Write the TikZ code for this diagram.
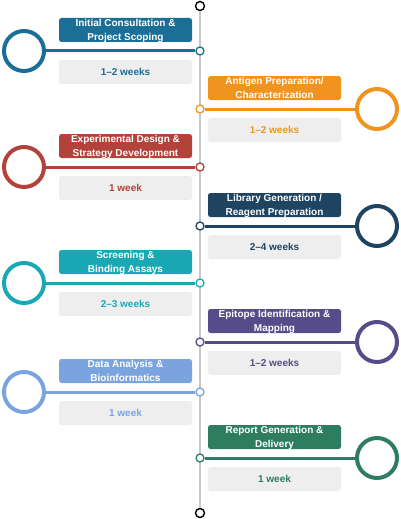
\documentclass[tikz,border=0pt]{standalone}
\usepackage{fontspec}
\setmainfont{Liberation Sans}
\definecolor{cA}{HTML}{1B6F96}
\definecolor{cB}{HTML}{F0941F}
\definecolor{cC}{HTML}{B3423A}
\definecolor{cD}{HTML}{1E4462}
\definecolor{cE}{HTML}{1AA9B4}
\definecolor{cF}{HTML}{564C89}
\definecolor{cG}{HTML}{7BA4DE}
\definecolor{cH}{HTML}{2E7D61}
\definecolor{axisgray}{HTML}{C8C8C8}
\definecolor{durgray}{HTML}{EEEEEE}
\newcommand\stage[7]{%
  \node[smalldot=#5] (s#1) at (200,#2) {};
  \node[bigring=#5] (b#1) at (#4,#2) {};
  \draw[linkline=#5] (s#1) -- (b#1);
  \node[ttl=#5] (t#1) at (#3,#2-21) {#6};
  \node[durbox=#5] (d#1) at (#3,#2+21) {#7};
}
\begin{document}
\begin{tikzpicture}[x=1pt,y=-1pt,
  ttl/.style={fill=#1, rounded corners=2.5pt, minimum width=133pt, minimum height=24pt,
    inner sep=0pt, text=white, font=\bfseries\fontsize{10}{13.5}\selectfont, align=center,
    text depth=0pt},
  durbox/.style={fill=durgray, rounded corners=2.5pt, minimum width=133pt, minimum height=24pt,
    inner sep=0pt, text=#1, font=\bfseries\fontsize{10}{12}\selectfont},
  smalldot/.style={circle, draw=#1, fill=white, line width=1.3pt, minimum size=8pt, inner sep=0pt},
  bigring/.style={circle, draw=#1, line width=4pt, minimum size=40pt, inner sep=0pt},
  linkline/.style={draw=#1, line width=3pt},
  endring/.style={circle, draw=black, fill=white, line width=1.4pt, minimum size=9pt, inner sep=0pt},
]
\useasboundingbox (0,0) rectangle (400,519);
\node[endring] (top) at (200,6) {};
\node[endring] (bot) at (200,513) {};
\draw[axisgray, line width=2.5pt] (top) -- (bot);
\stage{1}{51}{125.5}{24}{cA}{Initial Consultation \&\\Project Scoping}{1–2 weeks}
\stage{2}{109}{274.5}{377}{cB}{Antigen Preparation/\\Characterization}{1–2 weeks}
\stage{3}{167}{125.5}{24}{cC}{Experimental Design \&\\Strategy Development}{1 week}
\stage{4}{226}{274.5}{377}{cD}{Library Generation /\\Reagent Preparation}{2–4 weeks}
\stage{5}{283}{125.5}{24}{cE}{Screening \&\\Binding Assays}{2–3 weeks}
\stage{6}{342}{274.5}{377}{cF}{Epitope Identification \&\\Mapping}{1–2 weeks}
\stage{7}{392}{125.5}{24}{cG}{Data Analysis \&\\Bioinformatics}{1 week}
\stage{8}{458}{274.5}{377}{cH}{Report Generation \&\\Delivery}{1 week}
\end{tikzpicture}
\end{document}
